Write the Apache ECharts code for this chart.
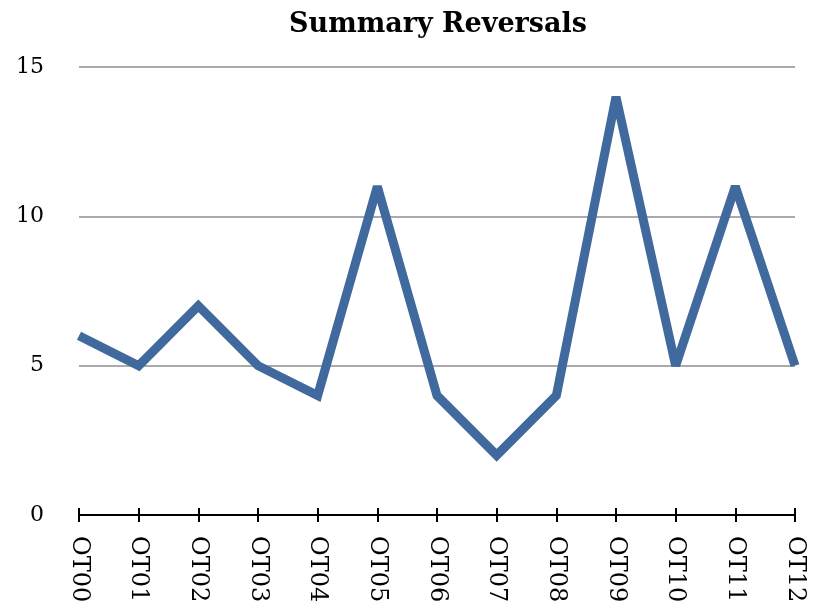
<!DOCTYPE html>
<html>
<head>
<meta charset="utf-8">
<script src="https://cdn.jsdelivr.net/npm/echarts@6/dist/echarts.min.js"></script>
<style>
html, body { margin: 0; padding: 0; background: #fff; }
#main { width: 814px; height: 611px; }
</style>
</head>
<body>
<div id="main"></div>
<script>
var categories = ['OT00', 'OT01', 'OT02', 'OT03', 'OT04', 'OT05', 'OT06', 'OT07', 'OT08', 'OT09', 'OT10', 'OT11', 'OT12'];
var reversals = [6, 5, 7, 5, 4, 11, 4, 2, 4, 14, 5, 11, 5];
var yTicks = [0, 5, 10, 15];

var serif = '"DejaVu Serif", "Liberation Serif", serif';
var chart = echarts.init(document.getElementById('main'));

var option = {
	animation: false,
	title: {
		text: 'Summary Reversals',
		left: 433,
		top: 6,
		textAlign: 'center',
		textStyle: { fontFamily: serif, fontWeight: 'bold', fontSize: 27, color: '#000' }
	},
	grid: { left: 79, right: 19, top: 67, bottom: 96, containLabel: false },
	xAxis: [
		{
			type: 'category',
			data: categories,
			boundaryGap: false,
			axisLine: { lineStyle: { color: '#000', width: 2 } },
			axisTick: { alignWithLabel: true, length: 7, lineStyle: { color: '#000', width: 2 } },
			axisLabel: {
				rotate: -90,
				interval: 0,
				margin: 21,
				fontFamily: serif,
				fontSize: 24,
				color: '#000'
			}
		},
		{
			// second axis only for the upward half of the cross ticks
			type: 'category',
			data: categories,
			boundaryGap: false,
			position: 'bottom',
			axisLine: { show: false },
			axisTick: { inside: true, length: 7, lineStyle: { color: '#000', width: 2 } },
			axisLabel: { show: false }
		}
	],
	yAxis: {
		type: 'value',
		min: yTicks[0],
		max: yTicks[yTicks.length - 1],
		interval: 5,
		axisLine: { show: false },
		axisTick: { show: false },
		splitLine: { lineStyle: { color: '#aaaaaa', width: 2 } },
		axisLabel: { margin: 35, padding: [4, 0, 0, 0], fontFamily: serif, fontSize: 22, color: '#000' }
	},
	series: [
		{
			name: 'Reversals',
			type: 'line',
			data: reversals,
			symbol: 'none',
			lineStyle: { color: '#40699d', width: 9, join: 'miter', miterLimit: 2 },
			itemStyle: { color: '#40699d' }
		}
	]
};

chart.setOption(option);
</script>
</body>
</html>
